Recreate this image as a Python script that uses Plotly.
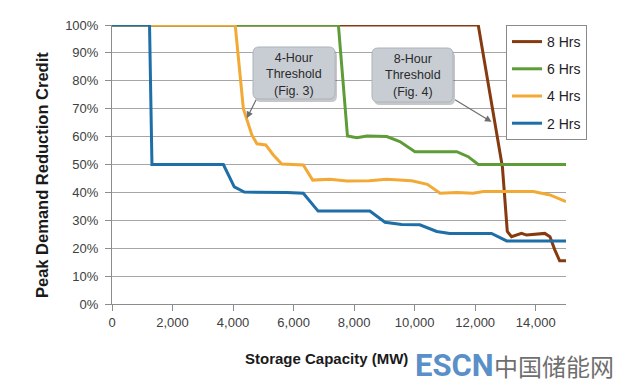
import plotly.graph_objects as go

# ---- data ----
x_8h = [0, 12100, 12900, 13000, 13060, 13200, 13530, 13700, 14300, 14470, 14630, 14790, 15000]
y_8h = [100, 100, 49, 34, 26, 24.1, 25.3, 24.7, 25.3, 24.1, 19.4, 15.5, 15.5]

x_6h = [0, 7480, 7780, 8090, 8420, 9080, 9510, 10010, 11390, 11770, 12100, 15000]
y_6h = [100, 100, 60.2, 59.6, 60.2, 60, 58.2, 54.6, 54.6, 52.8, 50, 50]

x_4h = [0, 4070, 4340, 4460, 4620, 4790, 5080, 5330, 5610, 6320, 6630, 7200, 7760, 8500,
        9080, 9900, 10420, 10840, 11390, 11930, 12270, 13920, 14470, 15000]
y_4h = [100, 100, 70, 66, 60.6, 57.4, 57, 53.4, 50.2, 49.8, 44.4, 44.7, 44.1, 44.2,
        44.7, 44.2, 42.9, 39.7, 40, 39.7, 40.3, 40.3, 39.1, 36.7]

x_2h = [0, 1240, 1320, 3680, 4040, 4370, 5780, 6320, 6810, 8520, 9020, 9570, 10170,
        10730, 11160, 12540, 13040, 15000]
y_2h = [100, 100, 50, 50, 42, 40.1, 40, 39.7, 33.3, 33.3, 29.3, 28.5, 28.4,
        26, 25.3, 25.3, 22.6, 22.6]

series_names = ["8 Hrs", "6 Hrs", "4 Hrs", "2 Hrs"]
series_colors = ["#853A10", "#5E9C38", "#F2A935", "#1E6EA7"]

x_ticks = [0, 2000, 4000, 6000, 8000, 10000, 12000, 14000]
x_tick_labels = ["0", "2,000", "4,000", "6,000", "8,000", "10,000", "12,000", "14,000"]
y_ticks = [0, 10, 20, 30, 40, 50, 60, 70, 80, 90, 100]
y_tick_labels = ["0%", "10%", "20%", "30%", "40%", "50%", "60%", "70%", "80%", "90%", "100%"]

# ---- layout geometry (pixels) ----
W, H = 620, 383
L, R, T, B = 112, 54, 25, 79
PW, PH = W - L - R, H - T - B


def px2paper(px, py):
    return (px - L) / PW, (H - B - py) / PH


def rounded_box(x0, y0, x1, y1, r=6):
    # pixel coords -> path in paper coords
    def p(x, y):
        a, b = px2paper(x, y)
        return f"{a:.5f},{b:.5f}"
    return (f"M {p(x0 + r, y0)} L {p(x1 - r, y0)} Q {p(x1, y0)} {p(x1, y0 + r)} "
            f"L {p(x1, y1 - r)} Q {p(x1, y1)} {p(x1 - r, y1)} L {p(x0 + r, y1)} "
            f"Q {p(x0, y1)} {p(x0, y1 - r)} L {p(x0, y0 + r)} Q {p(x0, y0)} {p(x0 + r, y0)} Z")


fig = go.Figure()
for xs, ys, name, col in zip([x_8h, x_6h, x_4h, x_2h], [y_8h, y_6h, y_4h, y_2h],
                             series_names, series_colors):
    fig.add_trace(go.Scatter(x=xs, y=ys, mode="lines", name=name, legendgroup=name,
                             line=dict(color=col, width=3)))

font_main = "Arial, Liberation Sans, sans-serif"

shapes = []
boxes = [(253, 47, 335, 99), (372, 48, 453, 102)]
for (x0, y0, x1, y1) in boxes:
    shapes.append(dict(type="path", xref="paper", yref="paper",
                       path=rounded_box(x0 + 2, y0 + 3, x1 + 2, y1 + 3),
                       fillcolor="rgba(0,0,0,0.22)", line=dict(width=0)))
    shapes.append(dict(type="path", xref="paper", yref="paper",
                       path=rounded_box(x0, y0, x1, y1),
                       fillcolor="#C8CDD3", line=dict(color="#AEB4BB", width=1)))

annotations = []
box_texts = ["4-Hour<br>Threshold<br>(Fig. 3)", "8-Hour<br>Threshold<br>(Fig. 4)"]
for (x0, y0, x1, y1), t in zip(boxes, box_texts):
    cx, cy = px2paper((x0 + x1) / 2, (y0 + y1) / 2 + 1)
    annotations.append(dict(x=cx, y=cy, xref="paper", yref="paper", text=t,
                            xanchor="center", yanchor="middle",
                            showarrow=False, font=dict(size=12.5, color="#2a2a2a", family=font_main)))

# arrows (head at data point, tail at box corner)
annotations.append(dict(x=4455, y=66.6, xref="x", yref="y", text="", showarrow=True,
                        ax=10, ay=-20, arrowhead=2, arrowsize=1.1, arrowwidth=1.2,
                        arrowcolor="#6E6E6E"))
annotations.append(dict(x=12540, y=65.3, xref="x", yref="y", text="", showarrow=True,
                        ax=-38, ay=-23, arrowhead=2, arrowsize=1.1, arrowwidth=1.2,
                        arrowcolor="#6E6E6E"))

# axis titles
annotations.append(dict(x=px2paper(42, 0)[0], y=px2paper(0, 175)[1], xref="paper", yref="paper",
                        text="<b>Peak Demand Reduction Credit</b>", textangle=-90, showarrow=False,
                        font=dict(size=16.5, color="#1a1a1a", family=font_main),
                        xanchor="center", yanchor="middle"))
annotations.append(dict(x=px2paper(326, 0)[0], y=px2paper(0, 358)[1], xref="paper", yref="paper",
                        text="<b>Storage Capacity (MW)</b>", showarrow=False,
                        font=dict(size=15, color="#1a1a1a", family=font_main),
                        xanchor="center", yanchor="middle"))
# watermark
annotations.append(dict(x=px2paper(413, 0)[0], y=px2paper(0, 365)[1], xref="paper", yref="paper",
                        text="<b>ESCN</b>", showarrow=False, xanchor="left", yanchor="middle",
                        font=dict(size=31, color="#5B8FC8", family="Roboto")))
annotations.append(dict(x=px2paper(492, 0)[0], y=px2paper(0, 365)[1], xref="paper", yref="paper",
                        text="中国储能网", showarrow=False, xanchor="left", yanchor="middle",
                        font=dict(size=24, color="#6F6F6F", family="Noto Sans CJK SC")))

fig.update_layout(
    width=W, height=H,
    margin=dict(l=L, r=R, t=T, b=B, pad=0),
    paper_bgcolor="white", plot_bgcolor="white",
    font=dict(family=font_main, size=13, color="#404040"),
    showlegend=True,
    legend=dict(x=px2paper(506, 0)[0], y=1, xanchor="left", yanchor="top",
                bgcolor="white", bordercolor="#8A8A8A", borderwidth=1,
                font=dict(size=14, color="#222222", family=font_main),
                tracegroupgap=6, traceorder="grouped"),
    shapes=shapes,
    annotations=annotations,
)
fig.update_xaxes(range=[0, 15000], tickvals=x_ticks, ticktext=x_tick_labels,
                 showgrid=False, zeroline=False, showline=True, linecolor="#8C8C8C",
                 ticks="outside", ticklen=6, tickcolor="#8C8C8C",
                 tickfont=dict(size=13, color="#404040"))
fig.update_yaxes(range=[0, 100], tickvals=y_ticks, ticktext=y_tick_labels,
                 showgrid=True, gridcolor="#A6A6A6", gridwidth=1, zeroline=False,
                 showline=True, linecolor="#8C8C8C", ticks="outside", ticklen=6,
                 tickcolor="#8C8C8C", ticklabelstandoff=4,
                 tickfont=dict(size=13, color="#404040"))

fig.write_html("out.html", config={"displayModeBar": False},
               post_script="document.body.style.margin='0';document.body.style.overflow='hidden';")
